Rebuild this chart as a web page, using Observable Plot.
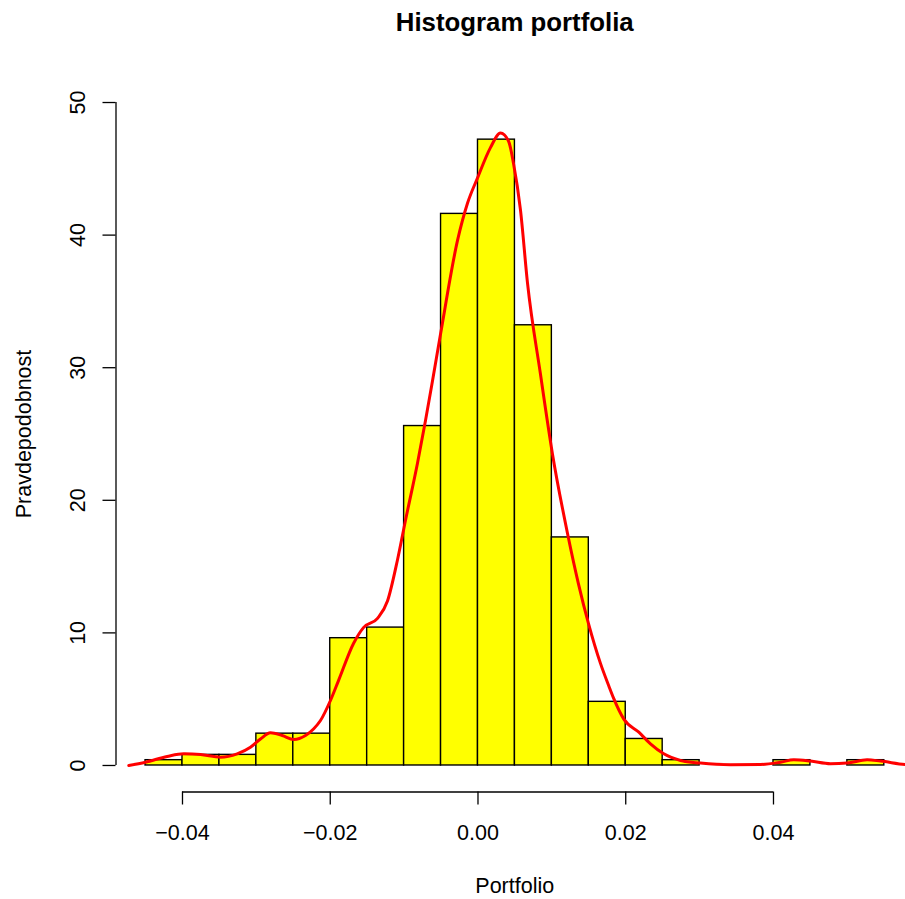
<!DOCTYPE html>
<html>
<head>
<meta charset="utf-8">
<script src="https://cdn.jsdelivr.net/npm/d3@7"></script>
<script src="https://cdn.jsdelivr.net/npm/@observablehq/plot@0.6"></script>
<style>
  html, body { margin: 0; padding: 0; background: #ffffff; }
</style>
</head>
<body>
<div id="chart"></div>
<script>
// Histogram breaks (bin edges)
const breaks = [-0.045, -0.040, -0.035, -0.030, -0.025, -0.020, -0.015, -0.010, -0.005, 0.000,
                0.005, 0.010, 0.015, 0.020, 0.025, 0.030, 0.035, 0.040, 0.045, 0.050, 0.055];
// Density of each bin
const densities = [0.4, 0.8, 0.8, 2.4, 2.4, 9.6, 10.4, 25.6, 41.6, 47.2,
                   33.2, 17.2, 4.8, 2.0, 0.4, 0, 0, 0.4, 0, 0.4];
// Kernel density curve
const densX = [-0.04727, -0.04501, -0.04207, -0.03982, -0.03756, -0.03486, -0.03260, -0.03080,
               -0.02944, -0.02809, -0.02650, -0.02493, -0.02335, -0.02223, -0.02132, -0.01997,
               -0.01888, -0.01685, -0.01550, -0.01360, -0.01225, -0.01090, -0.00981, -0.00819,
               -0.00711, -0.00616, -0.00508, -0.00277, -0.00142, -0.00007, 0.00169, 0.00305,
               0.00413, 0.00481, 0.00575, 0.00670, 0.00846, 0.01008, 0.01212,
               0.01360, 0.01496, 0.01658, 0.01771, 0.01834, 0.01974, 0.02177, 0.02335,
               0.02515, 0.02741, 0.03012, 0.03418, 0.03824, 0.04095, 0.04275, 0.04501,
               0.04772, 0.04998, 0.05268, 0.05448, 0.05787, 0.06058];
const densY = [0.0, 0.25, 0.68, 0.88, 0.83, 0.63, 0.88, 1.38,
               2.0, 2.47, 2.26, 1.96, 2.26, 2.77, 3.39, 4.9,
               6.4, 9.2, 10.4, 11.1, 12.4, 15.5, 18.5, 22.8,
               26.0, 29.0, 32.5, 39.6, 42.4, 44.3, 46.6, 47.7,
               47.1, 45.4, 41.9, 36.4, 29.5, 23.5, 17.5,
               13.7, 10.7, 7.7, 6.0, 5.1, 3.5, 2.51, 1.63,
               0.88, 0.38, 0.18, 0.05, 0.07, 0.25, 0.43, 0.33,
               0.13, 0.18, 0.43, 0.33, 0.07, 0.0];
// Axis ticks
const xTicks = [-0.04, -0.02, 0.00, 0.02, 0.04];
const yTicks = [0, 10, 20, 30, 40, 50];
const titleText = "Histogram portfolia";
const xLabel = "Portfolio";
const yLabel = "Pravdepodobnost";

const bins = densities.map((d, i) => ({x1: breaks[i], x2: breaks[i + 1], y: d}));
const curve = densX.map((x, i) => ({x, y: densY[i]}));
const fmt = d => (d < 0 ? "\u2212" : "") + Math.abs(d).toFixed(2);
const FS = 21.5;

const chart = Plot.plot({
  width: 905,
  height: 899,
  marginLeft: 115.5,
  marginRight: 0,
  marginTop: 75.5,
  marginBottom: 107.5,
  x: {domain: [-0.049, 0.05787]},
  y: {domain: [-2, 52]},
  style: {fontFamily: "'Liberation Sans', Arial, Helvetica, sans-serif", background: "#ffffff", color: "#000000"},
  marks: [
    Plot.rectY(bins.filter(b => b.y > 0), {x1: "x1", x2: "x2", y1: 0, y2: "y", fill: "#ffff00", stroke: "#000000", strokeWidth: 1.4, inset: 0}),
    Plot.line(curve, {x: "x", y: "y", stroke: "#ff0000", strokeWidth: 3, curve: "monotone-x"}),
    // x axis
    Plot.ruleY([-2], {x1: d3.min(xTicks), x2: d3.max(xTicks), stroke: "#000000", strokeWidth: 1.3}),
    Plot.axisX(xTicks, {anchor: "bottom", tickSize: 13, tickPadding: 20, fontSize: FS, tickFormat: fmt, label: null, strokeWidth: 1.3}),
    // y axis
    Plot.ruleX([-0.049], {y1: d3.min(yTicks), y2: d3.max(yTicks), stroke: "#000000", strokeWidth: 1.3}),
    Plot.axisY(yTicks, {anchor: "left", tickSize: 13, tickFormat: () => "", label: null, strokeWidth: 1.3}),
    Plot.text(yTicks, {y: d => d, text: d => String(d), frameAnchor: "left", dx: -37.5, rotate: -90, textAnchor: "middle", lineAnchor: "middle", fontSize: FS, fill: "#000000"}),
    // labels
    Plot.text([xLabel], {text: d => d, frameAnchor: "bottom", dy: 94.5, dx: 4, lineAnchor: "middle", fontSize: FS, fill: "#000000"}),
    Plot.text([yLabel], {text: d => d, frameAnchor: "left", dx: -91.5, rotate: -90, textAnchor: "middle", lineAnchor: "middle", fontSize: FS, fill: "#000000"}),
    Plot.text([titleText], {text: d => d, frameAnchor: "top", dy: -53.5, dx: 4, lineAnchor: "middle", fontSize: 25.8, fontWeight: "bold", fill: "#000000"})
  ]
});
document.getElementById("chart").appendChild(chart);
</script>
</body>
</html>
